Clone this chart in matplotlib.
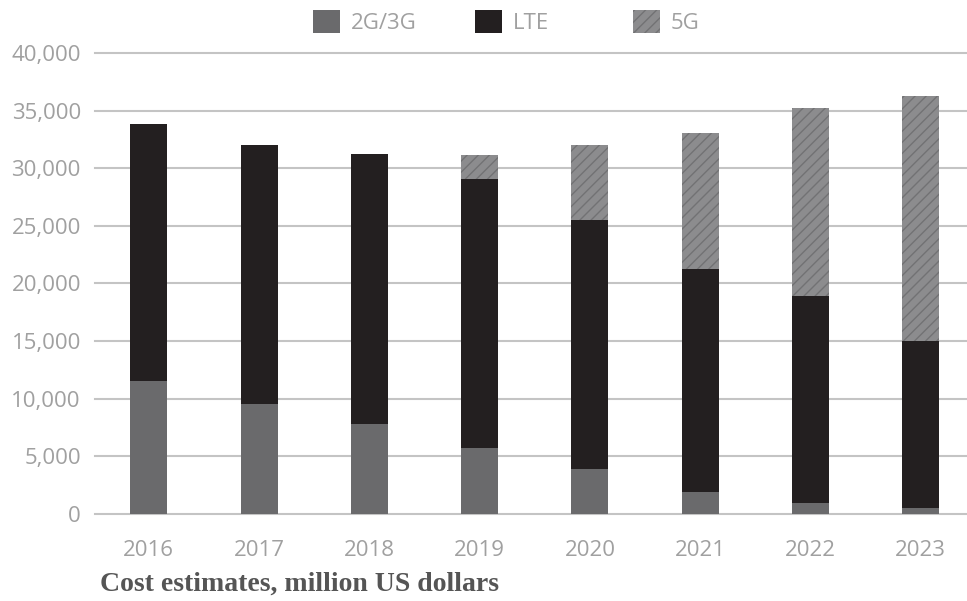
import numpy as np
import matplotlib
matplotlib.use('Agg')
import matplotlib.pyplot as plt
from matplotlib.ticker import FuncFormatter

# Datos (millones de USD)
years = ['2016', '2017', '2018', '2019', '2020', '2021', '2022', '2023']
g23 = [11500, 9500, 7800, 5750, 3900, 1950, 950, 500]
lte = [22300, 22500, 23400, 23350, 21650, 19350, 17950, 14500]
g5 = [0, 0, 0, 2050, 6450, 11800, 16300, 21300]

c_g23 = '#6a6a6c'
c_lte = '#231f20'
c_g5 = '#8c8c8e'
c_txt = '#a0a0a0'

plt.rcParams['hatch.linewidth'] = 1.0

fig = plt.figure(figsize=(9.67, 6.01), dpi=100)
ax = fig.add_axes([0.098, 0.1448, 0.902, 0.767])

x = np.arange(len(years))
w = 0.335
b1 = ax.bar(x, g23, w, color=c_g23, label='2G/3G', zorder=3)
b2 = ax.bar(x, lte, w, bottom=g23, color=c_lte, label='LTE', zorder=3)
bottom5 = np.array(g23) + np.array(lte)
b3 = ax.bar(x, g5, w, bottom=bottom5, facecolor=c_g5, edgecolor='#727274',
            hatch='///', linewidth=0, label='5G', zorder=3)

ax.set_xlim(-0.49, 7.42)
ax.set_ylim(0, 40000)
ax.set_yticks(np.arange(0, 40001, 5000))
ax.yaxis.set_major_formatter(FuncFormatter(lambda v, p: f'{int(v):,}'))
ax.set_xticks(x)
ax.set_xticklabels(years)

ax.grid(axis='y', color='#c4c4c4', linewidth=1.5, zorder=0)
for gl in ax.get_ygridlines():
    gl.set_clip_on(False)
for s in ax.spines.values():
    s.set_visible(False)
ax.tick_params(axis='both', length=0, labelsize=16, labelcolor=c_txt)
ax.tick_params(axis='y', pad=10)
ax.tick_params(axis='x', pad=19)
for lab in ax.get_xticklabels() + ax.get_yticklabels():
    lab.set_family('Open Sans')

# leyenda: una entrada por posición, como en el original
for h, xl in zip([b1, b2, b3], [313, 475, 633]):
    leg = fig.legend(handles=[h], loc='center left',
                     bbox_to_anchor=(xl / 967, 1 - 22 / 601),
                     frameon=False, prop={'family': 'Open Sans', 'size': 16},
                     handlelength=1.2, handleheight=1.2, handletextpad=0.5,
                     borderpad=0, borderaxespad=0)
    for t in leg.get_texts():
        t.set_color(c_txt)

fig.text(100 / 967, 1 - 584 / 601, 'Cost estimates, million US dollars',
         family='Liberation Serif', weight='bold', size=20, color='#555555',
         va='center', ha='left')

fig.savefig('out.png', dpi=100)
